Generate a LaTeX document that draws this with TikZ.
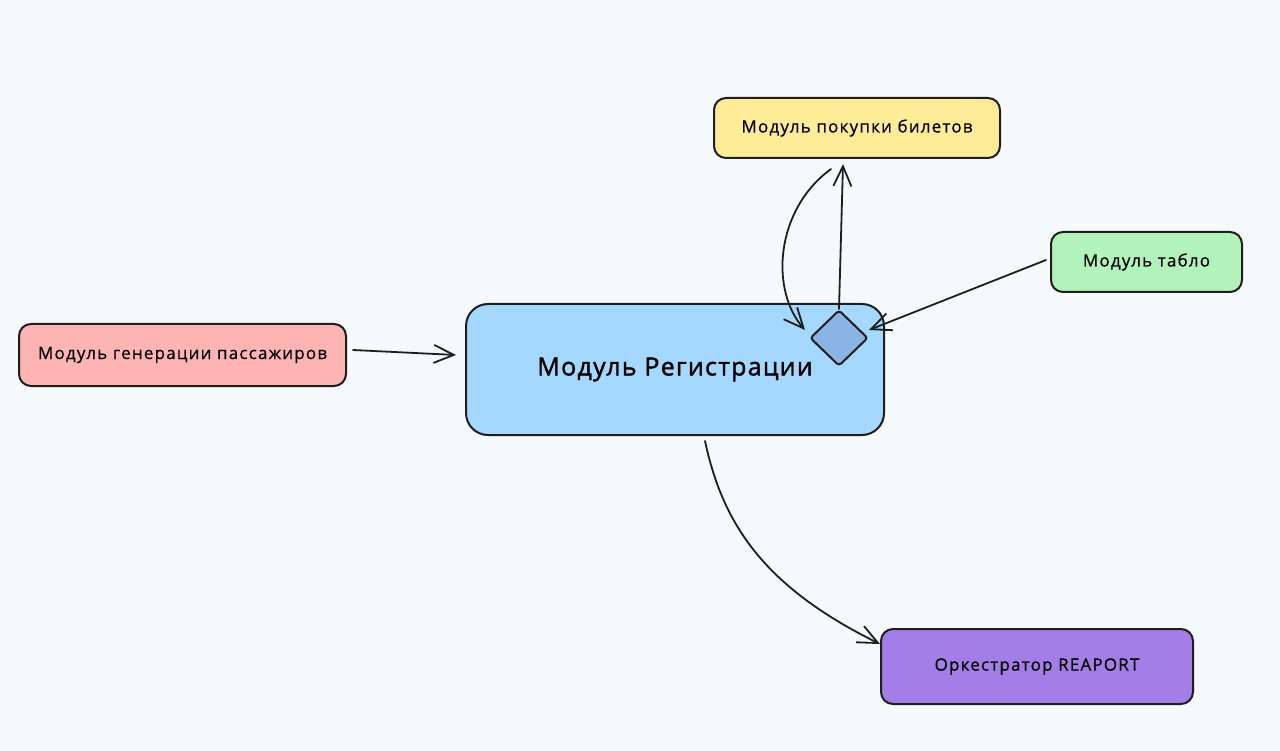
\documentclass[tikz,border=0pt]{standalone}
\usepackage{fontspec}
\setmainfont{Open Sans}[FakeBold=0.6]
\usetikzlibrary{arrows.meta,shapes.geometric}
\definecolor{bgc}{RGB}{245,249,252}
\definecolor{yel}{RGB}{255,236,153}
\definecolor{grn}{RGB}{178,242,187}
\definecolor{rd}{RGB}{255,180,180}
\definecolor{blu}{RGB}{165,216,255}
\definecolor{pur}{RGB}{163,126,230}
\definecolor{dia}{RGB}{138,180,228}
\definecolor{ink}{RGB}{30,30,30}
\tikzset{
  box/.style={draw=ink, line width=2pt, rounded corners=12pt, align=center, inner sep=0pt,
    font=\fontsize{17}{20}\selectfont\addfontfeature{LetterSpace=7}},
  conn/.style={draw=ink, line width=1.8pt, line cap=round, -{Straight Barb[length=20pt,width=18pt,line width=1.8pt]}},
}
\begin{document}
\begin{tikzpicture}[x=1pt,y=-1pt]
\fill[bgc] (0,0) rectangle (1280,751);
\useasboundingbox (0,0) rectangle (1280,751);
\node[box, fill=yel, minimum width=286pt, minimum height=60pt] (buy) at (857,128) {Модуль покупки билетов};
\node[box, fill=grn, minimum width=191pt, minimum height=60pt] (tab) at (1146.5,262) {Модуль табло};
\node[box, fill=rd, minimum width=327pt, minimum height=62pt] (gen) at (182.5,355) {Модуль генерации пассажиров};
\node[box, fill=blu, minimum width=418pt, minimum height=131pt, rounded corners=22pt,
  font=\fontsize{25}{30}\selectfont\addfontfeature{LetterSpace=5,FakeBold=1.5}] (reg) at (675,369.5) {Модуль Регистрации};
\node[box, fill=pur, minimum width=312pt, minimum height=75pt] (orc) at (1037,666.5) {Оркестратор REAPORT};
\node[draw=ink, line width=2pt, fill=dia, diamond, minimum width=58pt, minimum height=56pt, inner sep=0pt, rounded corners=3pt] (d) at (839,338) {};
% connectors
\draw[conn] ([shift={(6,-5)}]gen.east) -- ([shift={(-9,-14.5)}]reg.west);
\draw[conn] ([shift={(30,5)}]reg.south) .. controls (722,520) and (760,585) .. ([shift={(0,16)}]orc.north west);
\draw[conn] (d.north) -- ([shift={(-14,5)}]buy.south);
\draw[conn] ([shift={(-26,10)}]buy.south) .. controls (775,210) and (770,290) .. ([shift={(-4,-8)}]d.west);
\draw[conn] ([shift={(-4,-2)}]tab.west) -- ([shift={(0,-8)}]d.east);
\end{tikzpicture}
\end{document}
